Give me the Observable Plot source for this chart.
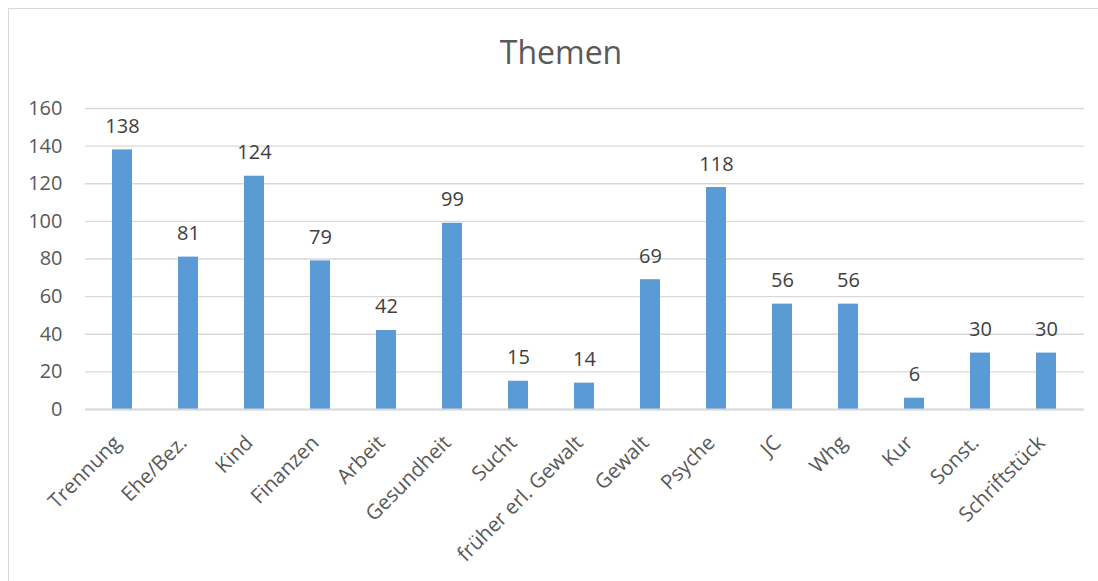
<!DOCTYPE html>
<html>
<head>
<meta charset="utf-8">
<script src="https://cdn.jsdelivr.net/npm/d3@7"></script>
<script src="https://cdn.jsdelivr.net/npm/@observablehq/plot@0.6"></script>
<style>
  html, body { margin: 0; padding: 0; background: #fff; }
  #wrap { position: relative; width: 1098px; height: 581px; overflow: hidden; }
  #frame { position: absolute; left: 8px; top: 8px; width: 1200px; height: 700px; border: 1.5px solid #d9d9d9; box-sizing: border-box; }
  #title { position: absolute; left: 0; width: 1122px; top: 30px; text-align: center; font-family: "Open Sans", sans-serif; font-size: 32px; color: #595959; }
  #chart { position: absolute; left: 0; top: 0; }
</style>
</head>
<body>
<div id="wrap">
  <div id="frame"></div>
  <div id="title">Themen</div>
  <div id="chart"></div>
</div>
<script>
const categories = ["Trennung", "Ehe/Bez.", "Kind", "Finanzen", "Arbeit", "Gesundheit", "Sucht", "früher erl. Gewalt", "Gewalt", "Psyche", "JC", "Whg", "Kur", "Sonst.", "Schriftstück"];
const values = [138, 81, 124, 79, 42, 99, 15, 14, 69, 118, 56, 56, 6, 30, 30];
const yTicks = [0, 20, 40, 60, 80, 100, 120, 140, 160];

const data = categories.map((c, i) => ({ cat: c, value: values[i] }));

const chart = Plot.plot({
  width: 1098,
  height: 581,
  marginLeft: 85,
  marginRight: 14,
  marginTop: 108,
  marginBottom: 172,
  style: { fontFamily: "'Open Sans', sans-serif", background: "transparent", color: "#595959" },
  x: { domain: categories, paddingInner: 0.69, paddingOuter: 0.345, label: null },
  y: { domain: [0, 160], label: null },
  marks: [
    Plot.gridY(yTicks, { stroke: "#d9d9d9", strokeOpacity: 1, strokeWidth: 1.3 }),
    Plot.axisY(yTicks, { tickSize: 0, tickPadding: 23, fontSize: 20, fill: "#595959" }),
    Plot.axisX({ tickSize: 0, tickRotate: -45, tickPadding: 30, dx: -5, fontSize: 20.5, fill: "#595959" }),
    Plot.barY(data, { x: "cat", y: "value", fill: "#5b9bd5" }),
    Plot.ruleY([0], { stroke: "#d9d9d9", strokeWidth: 2 }),
    Plot.text(data, { x: "cat", y: "value", text: d => String(d.value), lineAnchor: "bottom", dy: -17, fontSize: 20, fill: "#404040" })
  ]
});
document.getElementById("chart").appendChild(chart);
</script>
</body>
</html>
